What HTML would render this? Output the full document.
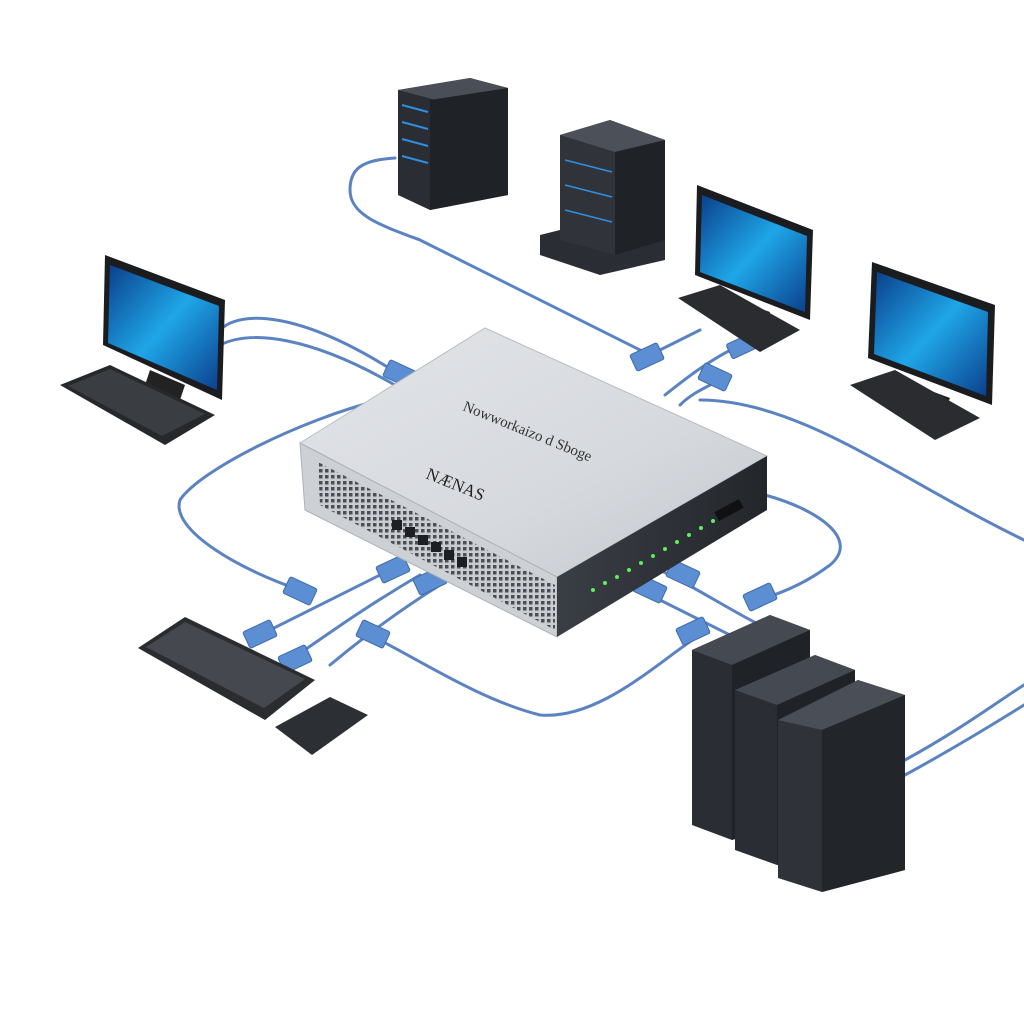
<!DOCTYPE html>
<html><head><meta charset="utf-8"><style>html,body{margin:0;padding:0;background:#fff}svg{display:block}</style></head>
<body>
<svg width="1024" height="1024" viewBox="0 0 1024 1024" xmlns="http://www.w3.org/2000/svg">
<defs>
<linearGradient id="scr" x1="0" y1="0" x2="1" y2="1"><stop offset="0" stop-color="#0a3f8a"/><stop offset=".5" stop-color="#1fa6e8"/><stop offset="1" stop-color="#0b3f8c"/></linearGradient>
<linearGradient id="top" x1="0" y1="0" x2="1" y2="1"><stop offset="0" stop-color="#e2e4e8"/><stop offset=".6" stop-color="#d6d9de"/><stop offset="1" stop-color="#c3c7cd"/></linearGradient>
<linearGradient id="dk" x1="0" y1="0" x2="1" y2="0"><stop offset="0" stop-color="#3a3e45"/><stop offset="1" stop-color="#23262b"/></linearGradient>
<pattern id="mesh" width="6" height="6" patternUnits="userSpaceOnUse"><rect width="6" height="6" fill="#c9ccd1"/><rect x="1" y="1" width="3.5" height="3.5" fill="#4a4e55"/></pattern>
</defs>
<rect width="1024" height="1024" fill="#fff"/>
<g fill="none" stroke="#5b83c2" stroke-width="3" stroke-linecap="round">
<path d="M395 158 C360 160 350 170 350 190 C350 215 380 225 420 240 L640 350"/>
<path d="M220 330 C240 310 300 310 400 375"/>
<path d="M220 345 C250 330 310 335 400 388"/>
<path d="M380 400 C300 420 200 470 180 500 C170 530 240 570 300 590"/>
<path d="M400 565 C330 600 290 620 260 635"/>
<path d="M420 575 C360 610 320 640 290 660"/>
<path d="M440 585 C400 610 360 640 330 665"/>
<path d="M370 635 C420 660 480 700 540 715 C600 720 660 660 700 635"/>
<path d="M700 330 C680 340 660 350 640 360"/>
<path d="M740 345 C710 360 690 375 665 395"/>
<path d="M720 380 C700 390 690 395 680 405"/>
<path d="M700 400 C800 400 900 480 1024 540"/>
<path d="M765 495 C820 510 860 540 830 565 C810 580 790 590 760 600"/>
<path d="M660 570 C700 590 730 610 760 625"/>
<path d="M640 590 C680 610 720 630 740 640"/>
<path d="M905 760 C960 730 1000 700 1024 685"/>
<path d="M905 775 C960 745 1000 720 1024 705"/>
</g>
<g fill="#5b8ed3" stroke="#3e6aa8" stroke-width="1">
<rect x="385" y="365" width="30" height="18" rx="2" transform="rotate(25 400 374)"/>
<rect x="632" y="348" width="30" height="18" rx="2" transform="rotate(-25 647 357)"/>
<rect x="728" y="338" width="28" height="16" rx="2" transform="rotate(-25 742 346)"/>
<rect x="700" y="368" width="30" height="18" rx="2" transform="rotate(25 715 377)"/>
<rect x="285" y="582" width="30" height="18" rx="2" transform="rotate(25 300 591)"/>
<rect x="378" y="560" width="30" height="18" rx="2" transform="rotate(-25 393 569)"/>
<rect x="415" y="572" width="30" height="18" rx="2" transform="rotate(-25 430 581)"/>
<rect x="245" y="625" width="30" height="18" rx="2" transform="rotate(-25 260 634)"/>
<rect x="280" y="650" width="30" height="18" rx="2" transform="rotate(-25 295 659)"/>
<rect x="358" y="625" width="30" height="18" rx="2" transform="rotate(25 373 634)"/>
<rect x="678" y="622" width="30" height="18" rx="2" transform="rotate(-25 693 631)"/>
<rect x="668" y="565" width="30" height="18" rx="2" transform="rotate(25 683 574)"/>
<rect x="635" y="580" width="30" height="18" rx="2" transform="rotate(25 650 589)"/>
<rect x="745" y="588" width="30" height="18" rx="2" transform="rotate(-25 760 597)"/>
</g>
<!-- NAS -->
<polygon points="300,443 485,328 767,456 557,577" fill="url(#top)" stroke="#b8bcc2"/>
<polygon points="300,443 557,577 557,637 305,510" fill="#cdd0d5" stroke="#aeb2b8"/>
<polygon points="318,462 555,585 555,630 320,505" fill="url(#mesh)"/>
<polygon points="557,577 767,456 767,510 557,637" fill="url(#dk)"/>
<g fill="#1d1f23"><rect x="392" y="520" width="10" height="10"/><rect x="405" y="527" width="10" height="10"/><rect x="418" y="535" width="10" height="10"/><rect x="431" y="542" width="10" height="10"/><rect x="444" y="550" width="10" height="10"/><rect x="457" y="557" width="10" height="10"/></g>
<g fill="#5ef05a"><circle cx="593" cy="590" r="2"/><circle cx="605" cy="583" r="2"/><circle cx="617" cy="577" r="2"/><circle cx="629" cy="570" r="2"/><circle cx="641" cy="563" r="2"/><circle cx="653" cy="556" r="2"/><circle cx="665" cy="549" r="2"/><circle cx="677" cy="542" r="2"/><circle cx="689" cy="535" r="2"/><circle cx="701" cy="528" r="2"/><circle cx="713" cy="521" r="2"/></g>
<rect x="715" y="505" width="28" height="10" fill="#111" transform="rotate(-28 729 510)"/>
<text x="462" y="410" font-family="Liberation Serif, serif" font-size="15" fill="#333" transform="rotate(22 462 410)">Nowworkaizo d Sboge</text>
<text x="425" y="478" font-family="Liberation Serif, serif" font-size="17" fill="#222" transform="rotate(22 425 478)">NÆNAS</text>
<!-- tower top -->
<polygon points="398,90 470,78 508,88 508,195 430,210 398,195" fill="#2a2d33"/>
<polygon points="398,90 470,78 508,88 436,100" fill="#4a4e56"/>
<polygon points="430,100 508,88 508,195 430,210" fill="#1f2226"/>
<g stroke="#2f8fe0" stroke-width="2"><line x1="402" y1="105" x2="428" y2="112"/><line x1="402" y1="122" x2="428" y2="129"/><line x1="402" y1="139" x2="428" y2="146"/><line x1="402" y1="156" x2="428" y2="163"/></g>
<!-- small server -->
<polygon points="540,235 600,220 665,235 665,260 600,275 540,255" fill="#2a2d33"/>
<polygon points="560,135 610,120 665,140 665,240 615,255 560,240" fill="#30343a"/>
<polygon points="560,135 610,120 665,140 615,152" fill="#4c5058"/>
<polygon points="615,152 665,140 665,240 615,255" fill="#1f2226"/>
<g stroke="#2f8fe0" stroke-width="1.5"><line x1="565" y1="160" x2="612" y2="172"/><line x1="565" y1="185" x2="612" y2="197"/><line x1="565" y1="210" x2="612" y2="222"/></g>
<!-- monitors -->
<g>
<polygon points="105,255 225,300 222,400 103,345" fill="#1a1c20"/>
<polygon points="110,265 219,306 217,390 108,343" fill="url(#scr)"/>
<polygon points="150,370 185,385 180,400 145,385" fill="#222"/>
<polygon points="60,385 110,365 215,415 165,445" fill="#26282c"/>
<polygon points="68,386 110,369 205,414 162,436" fill="#3a3d42"/>
</g>
<g>
<polygon points="697,185 813,230 810,320 695,275" fill="#1a1c20"/>
<polygon points="702,195 807,236 805,312 700,272" fill="url(#scr)"/>
<polygon points="735,300 770,312 765,325 730,312" fill="#222"/>
<polygon points="678,298 720,285 800,330 760,352" fill="#2a2c30"/>
</g>
<g>
<polygon points="872,262 995,305 992,405 868,358" fill="#1a1c20"/>
<polygon points="877,272 988,312 986,396 874,354" fill="url(#scr)"/>
<polygon points="915,385 950,398 945,410 910,398" fill="#222"/>
<polygon points="850,385 895,370 980,418 935,440" fill="#2a2c30"/>
</g>
<!-- keyboard & pad -->
<polygon points="138,648 185,617 315,680 265,720" fill="#2a2c30"/>
<polygon points="146,647 185,622 305,679 264,708" fill="#45484e"/>
<polygon points="275,727 330,697 368,715 312,755" fill="#2c2f34"/>
<!-- three towers -->
<g>
<polygon points="692,650 770,615 810,630 810,815 732,840 692,825" fill="#2a2d33"/>
<polygon points="692,650 770,615 810,630 732,665" fill="#454951"/>
<polygon points="732,665 810,630 810,815 732,840" fill="#1f2226"/>
<polygon points="735,690 815,655 855,670 855,845 777,865 735,850" fill="#2a2d33"/>
<polygon points="735,690 815,655 855,670 777,705" fill="#454951"/>
<polygon points="777,705 855,670 855,845 777,865" fill="#1f2226"/>
<polygon points="778,720 858,680 905,695 905,870 822,892 778,878" fill="#2f3238"/>
<polygon points="778,720 858,680 905,695 822,730" fill="#4a4e56"/>
<polygon points="822,730 905,695 905,870 822,892" fill="#22252a"/>
</g>
</svg>
</body></html>
